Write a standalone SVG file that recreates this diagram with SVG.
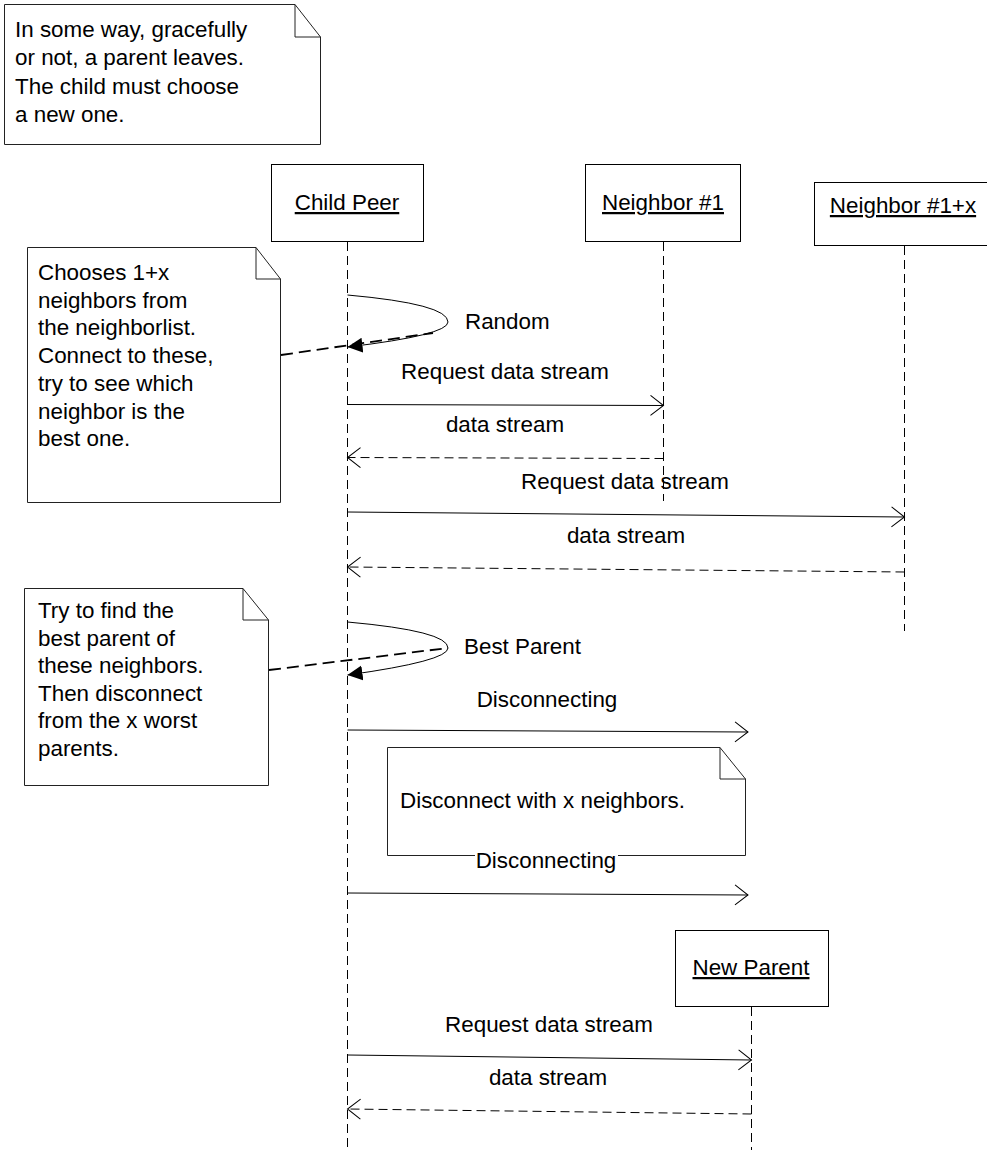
<svg xmlns="http://www.w3.org/2000/svg" width="987" height="1150" viewBox="0 0 987 1150">
  <style>
    text { font-family: "Liberation Sans", Arial, sans-serif; font-size: 22.4px; fill: #000; }
    .mid { text-anchor: middle; }
    .ul { text-decoration: underline; }
    .box { fill: #fff; stroke: #000; stroke-width: 1; }
    .note { fill: #fff; stroke: #222; stroke-width: 1; }
    .fold { fill: none; stroke: #222; stroke-width: 1; }
    .life { fill: none; stroke: #000; stroke-width: 1; stroke-dasharray: 9 5; }
    .call { fill: none; stroke: #000; stroke-width: 1; marker-end: url(#open); }
    .ret { fill: none; stroke: #000; stroke-width: 1; stroke-dasharray: 9 5; marker-end: url(#open); }
    .self { fill: none; stroke: #000; stroke-width: 1; marker-end: url(#solid); }
    .link { fill: none; stroke: #000; stroke-width: 1.8; stroke-dasharray: 12 6; }
  </style>
  <defs>
    <marker id="open" markerUnits="userSpaceOnUse" viewBox="-1 -11 16 22" refX="13" refY="0" markerWidth="16" markerHeight="22" orient="auto">
      <path d="M0,-10 L13,0 L0,10" fill="none" stroke="#000" stroke-width="1" stroke-dasharray="none"/>
    </marker>
    <marker id="solid" markerUnits="userSpaceOnUse" viewBox="0 -8 16 16" refX="15" refY="0" markerWidth="16" markerHeight="16" orient="auto">
      <path d="M0,-7.5 L15,0 L0,7.5 Z" fill="#000" stroke="none"/>
    </marker>
  </defs>

  <rect width="987" height="1150" fill="#fff"/>

  <!-- connectors: lifelines, messages, note links -->
  <g id="connectors">
    <line class="life" x1="347.5" y1="242" x2="347.5" y2="1150"/>
    <line class="life" x1="663.5" y1="242" x2="663.5" y2="501"/>
    <line class="life" x1="904.5" y1="246" x2="904.5" y2="631"/>
    <line class="life" x1="751.5" y1="1007" x2="751.5" y2="1150"/>

    <path class="self" d="M347.5,295 Q448,304 448,322 Q448,335 347.5,347"/>
    <line class="link" x1="281" y1="355" x2="433" y2="333"/>

    <path class="call" d="M347.5,404.5 L663.5,405.5"/>
    <path class="ret" d="M663.5,458.5 L347.5,457.5"/>
    <path class="call" d="M347.5,512 L904.5,517"/>
    <path class="ret" d="M904.5,572 L347.5,567"/>

    <path class="self" d="M347.5,622 Q448,631 448,648 Q448,661 347.5,675"/>
    <line class="link" x1="269" y1="670" x2="448" y2="648"/>

    <path class="call" d="M347.5,730 L748,732"/>
    <path class="call" d="M347.5,893 L748,895"/>
    <path class="call" d="M347.5,1055 L751.5,1060"/>
    <path class="ret" d="M751.5,1114 L347.5,1109"/>
  </g>

  <!-- message labels -->
  <g id="labels">
    <text x="465" y="329">Random</text>
    <text class="mid" x="505" y="379">Request data stream</text>
    <text class="mid" x="505" y="432">data stream</text>
    <text class="mid" x="625" y="489">Request data stream</text>
    <text class="mid" x="626" y="543">data stream</text>
    <text x="464" y="654">Best Parent</text>
    <text class="mid" x="547" y="707">Disconnecting</text>
    <text class="mid" x="549" y="1032">Request data stream</text>
    <text class="mid" x="548" y="1085">data stream</text>
  </g>

  <!-- lifeline heads -->
  <g id="child-peer">
    <rect class="box" x="271.5" y="164.5" width="152" height="77"/>
    <text class="mid ul" x="347" y="210">Child Peer</text>
  </g>
  <g id="neighbor-1">
    <rect class="box" x="585.5" y="164.5" width="155" height="77"/>
    <text class="mid ul" x="663" y="210">Neighbor #1</text>
  </g>
  <g id="neighbor-1x">
    <rect class="box" x="814.5" y="182.5" width="190" height="63"/>
    <text class="mid ul" x="903" y="213">Neighbor #1+x</text>
  </g>
  <g id="new-parent">
    <rect class="box" x="675.5" y="930.5" width="153" height="76"/>
    <text class="mid ul" x="751" y="975">New Parent</text>
  </g>

  <!-- notes with folded corner -->
  <g id="note-intro">
    <path class="note" d="M4.5,4.5 H295 L320.5,37 V144.5 H4.5 Z"/>
    <path class="fold" d="M295,4.5 V37 H320.5"/>
    <text x="15" y="36.5">In some way, gracefully<tspan x="15" dy="28.5">or not, a parent leaves.</tspan><tspan x="15" dy="28.5">The child must choose</tspan><tspan x="15" dy="28.5">a new one.</tspan></text>
  </g>
  <g id="note-choose">
    <path class="note" d="M27.5,247.5 H256 L280.5,279 V502.5 H27.5 Z"/>
    <path class="fold" d="M256,247.5 V279 H280.5"/>
    <text x="38" y="280">Chooses 1+x<tspan x="38" dy="27.7">neighbors from</tspan><tspan x="38" dy="27.7">the neighborlist.</tspan><tspan x="38" dy="27.7">Connect to these,</tspan><tspan x="38" dy="27.7">try to see which</tspan><tspan x="38" dy="27.7">neighbor is the</tspan><tspan x="38" dy="27.7">best one.</tspan></text>
  </g>
  <g id="note-best">
    <path class="note" d="M24.5,588.5 H243 L268.5,620 V785.5 H24.5 Z"/>
    <path class="fold" d="M243,588.5 V620 H268.5"/>
    <text x="38" y="618">Try to find the<tspan x="38" dy="27.6">best parent of</tspan><tspan x="38" dy="27.6">these neighbors.</tspan><tspan x="38" dy="27.6">Then disconnect</tspan><tspan x="38" dy="27.6">from the x worst</tspan><tspan x="38" dy="27.6">parents.</tspan></text>
  </g>
  <g id="note-disconnect">
    <path class="note" d="M387.5,747.5 H720 L745.5,779 V855.5 H387.5 Z"/>
    <path class="fold" d="M720,747.5 V779 H745.5"/>
    <text x="400" y="808">Disconnect with x neighbors.</text>
  </g>

  <!-- second disconnect label sits over the note edge on a white ground -->
  <g id="label-disconnect-2">
    <rect x="475" y="853" width="143" height="22" fill="#fff"/>
    <text class="mid" x="546" y="868">Disconnecting</text>
  </g>
</svg>
